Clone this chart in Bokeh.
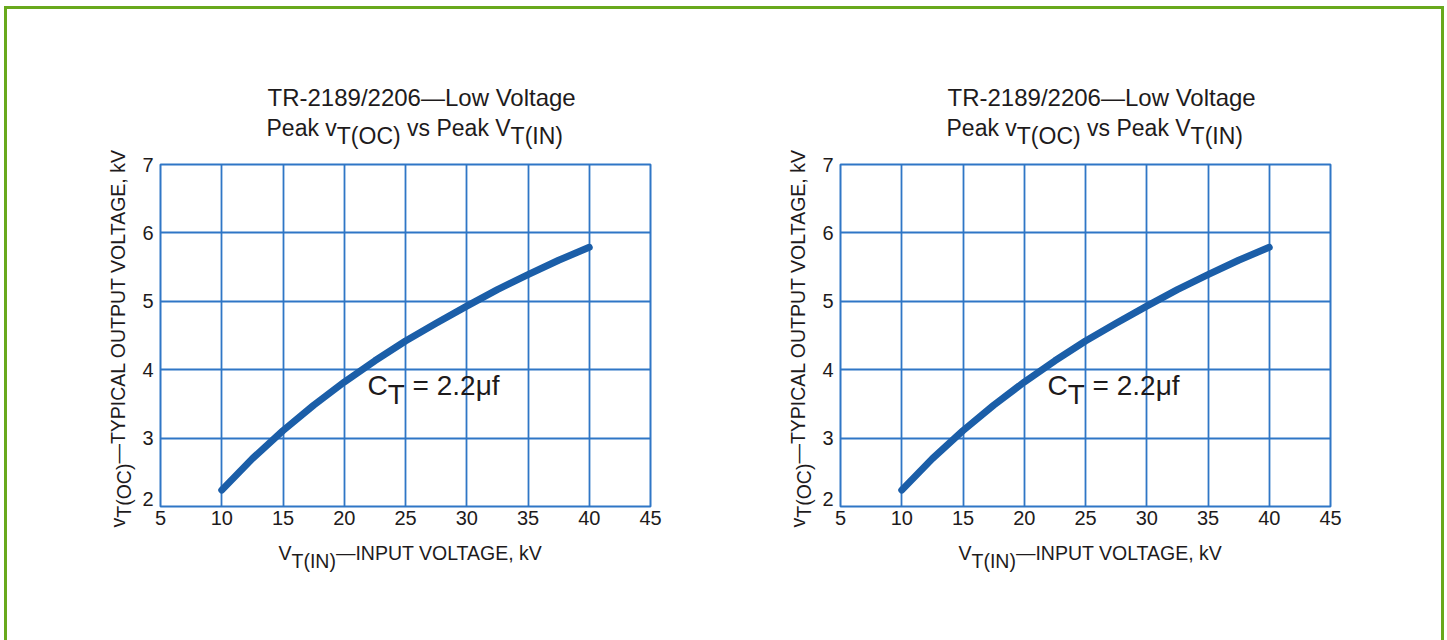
from bokeh.plotting import figure
from bokeh.models import Range1d, FixedTicker, Label
from bokeh.layouts import row
from bokeh.embed import file_html
from bokeh.resources import INLINE

# ---- data ----
vin_kv = [10, 12.5, 15, 17.5, 20, 22.5, 25, 27.5, 30, 32.5, 35, 37.5, 40]
vout_kv = [2.24, 2.70, 3.11, 3.48, 3.82, 4.13, 4.42, 4.68, 4.93, 5.17, 5.39, 5.60, 5.79]
x_ticks = [5, 10, 15, 20, 25, 30, 35, 40, 45]
y_ticks = [2, 3, 4, 5, 6, 7]
title_line1 = "TR-2189/2206\u2014Low Voltage"
title_parts = [("Peak v", False), ("T(OC)", True), (" vs Peak V", False), ("T(IN)", True)]
xlabel_parts = [("V", False), ("T(IN)", True), ("\u2014INPUT VOLTAGE, kV", False)]
ylabel_parts = [("v", False), ("T(OC)", True), ("\u2014TYPICAL OUTPUT VOLTAGE, kV", False)]
note_parts = [("C", False), ("T", True), (" = 2.2\u03bcf", False)]

# ---- style ----
FONT = "Liberation Sans"
TXT = "#1e1b1c"
GRID = "#2f76c6"
CURVE = "#1b5ea8"
GREEN = "#68a91c"

# Arial / Liberation Sans advance widths (per 1000 em)
W = {' ': 278, '(': 333, ')': 333, ',': 278, '-': 333, '.': 278, '/': 278, '=': 584,
     '\u2014': 1000, '\u03bc': 576}
for ch in "0123456789":
    W[ch] = 556
W.update(dict(A=667, B=667, C=722, D=722, E=667, F=611, G=778, H=722, I=278, J=500, K=667,
              L=556, M=833, N=722, O=778, P=667, Q=778, R=722, S=667, T=611, U=722, V=667,
              W=944, X=667, Y=667, Z=611))
W.update(dict(a=556, b=556, c=500, d=556, e=556, f=278, g=556, h=556, i=222, j=222, k=500,
              l=222, m=833, n=556, o=556, p=556, q=556, r=333, s=500, t=278, u=556, v=500,
              w=722, x=500, y=500, z=500))


def text_w(s, size):
    return sum(W.get(c, 556) for c in s) * size / 1000.0


X0, X1, Y0, Y1 = 5, 45, 2, 7
FRAME_W, FRAME_H = 490, 342
H = 631
FRAME_TOP = 155
PAGE_FRAME_TOP = 164
BASE_FIX = 0.38  # em correction for where the alphabetic baseline lands


def make_chart(width, left, page_frame_left):
    p = figure(width=width, height=H, output_backend="svg", toolbar_location=None,
               x_range=Range1d(X0, X1), y_range=Range1d(Y0, Y1),
               min_border_left=left, min_border_right=width - left - FRAME_W,
               min_border_top=FRAME_TOP, min_border_bottom=H - FRAME_TOP - FRAME_H,
               background_fill_color="white", border_fill_color="white")
    p.outline_line_color = GRID
    p.outline_line_width = 2
    for ax in (p.xaxis[0], p.yaxis[0]):
        ax.axis_line_color = None
        ax.major_tick_line_color = None
        ax.minor_tick_line_color = None
        ax.major_tick_out = 0
        ax.major_tick_in = 0
        ax.major_label_text_font = FONT
        ax.major_label_text_font_size = "20px"
        ax.major_label_text_color = TXT
    p.xaxis[0].ticker = FixedTicker(ticks=x_ticks)
    p.yaxis[0].ticker = FixedTicker(ticks=y_ticks)
    p.xaxis[0].major_label_standoff = 4
    p.yaxis[0].major_label_standoff = 7
    # the lowest y label sits on the frame edge (raised above the x labels)
    p.yaxis[0].major_label_overrides = {y_ticks[0]: " "}
    p.xgrid[0].ticker = FixedTicker(ticks=x_ticks)
    p.ygrid[0].ticker = FixedTicker(ticks=y_ticks)
    for g in (p.xgrid[0], p.ygrid[0]):
        g.grid_line_color = GRID
        g.grid_line_width = 1.8
        g.grid_line_alpha = 1.0

    p.line(vin_kv, vout_kv, line_color=CURVE, line_width=7, line_cap="round",
           line_join="round")

    # page-pixel -> data helpers, relative to the frame's page position
    fl = page_frame_left
    ft = PAGE_FRAME_TOP
    sx = FRAME_W / (X1 - X0)
    sy = FRAME_H / (Y1 - Y0)
    off = fl - 160

    def lab(px, py, text, size, place, angle=0.0, align="left"):
        if angle == 0.0:
            py -= BASE_FIX * size
        L = Label(x=X0 + (px + off - fl) / sx, y=Y1 - (py - ft) / sy, text=text,
                  text_font=FONT, text_font_size=f"{size}px", text_color=TXT,
                  text_align=align, text_baseline="alphabetic", angle=angle)
        if place == "center":
            p.add_layout(L)
        else:
            p.add_layout(L, place)

    def run(parts, px, py, size, sub, place):
        for t, is_sub in parts:
            s = t.lstrip(" ")
            lead = text_w(t[:len(t) - len(s)], size)
            lab(px + lead, py + (sub if is_sub else 0), s, size, place)
            px += text_w(t, size)

    def run_vertical(parts, px, py, size, sub, place):
        for t, is_sub in parts:
            s = t.lstrip(" ")
            lead = text_w(t[:len(t) - len(s)], size)
            lab(px + (sub if is_sub else 0), py - lead, s, size, place,
                angle=1.5707963267948966)
            py -= text_w(t, size)

    lab(267, 106.5, title_line1, 24, "above")
    run(title_parts, 266, 136.5, 23, 7.5, "above")
    run(xlabel_parts, 278, 560, 19.5, 8, "below")
    run_vertical(ylabel_parts, 117, 527, 19.5, 6, "left")
    lab(153, 506, str(y_ticks[0]), 20, "left", align="right")
    run(note_parts, 367, 396, 28, 9, "center")
    return p


p1 = make_chart(717, 153, 160)
p2 = make_chart(717, 116, 840)

layout = row(p1, p2, styles={"border-top": f"3px solid {GREEN}",
                             "border-left": f"3px solid {GREEN}",
                             "border-right": f"3px solid {GREEN}",
                             "margin-left": "4px", "margin-top": "6px",
                             "background": "white"})

open("out.html", "w").write(file_html(layout, INLINE))
